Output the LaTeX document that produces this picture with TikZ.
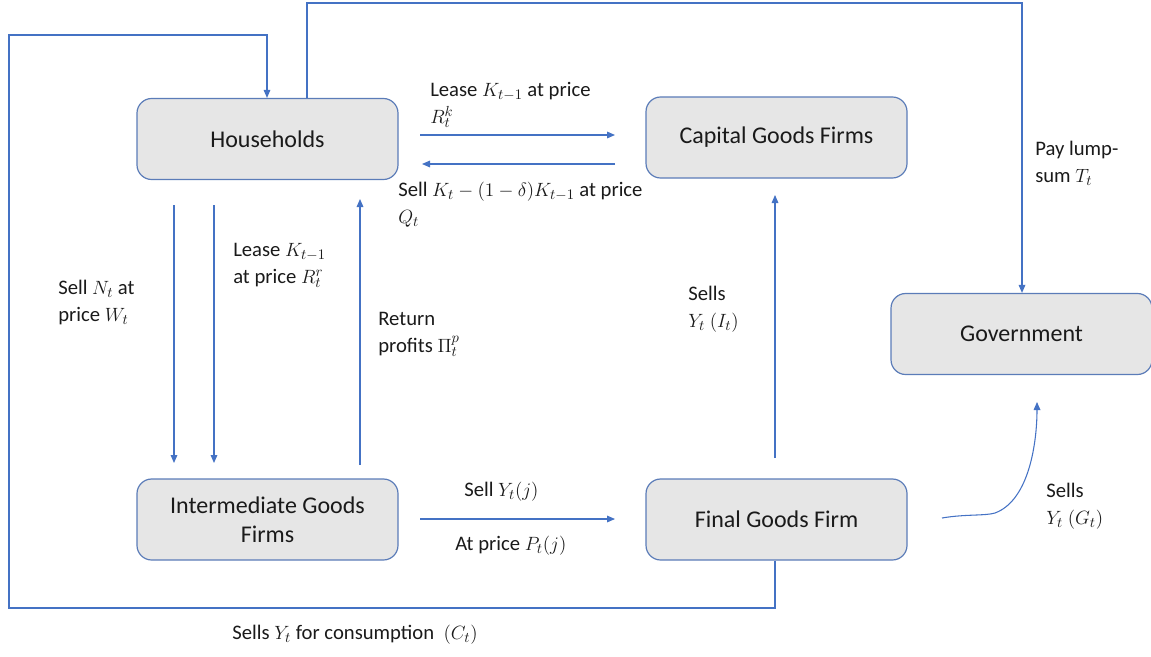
\documentclass[tikz,border=0pt]{standalone}
\usepackage{fontspec}
\setmainfont{Carlito}
\usetikzlibrary{arrows.meta}
\definecolor{lineblue}{HTML}{4472C4}
\definecolor{boxborder}{HTML}{5B7CB8}
\definecolor{boxfill}{HTML}{E6E6E6}
\definecolor{txt}{HTML}{1A1A1A}
\tikzset{
  box/.style={draw=boxborder, line width=0.9pt, fill=boxfill, rounded corners=11pt,
    minimum width=195.75pt, minimum height=60.75pt, inner sep=0pt, align=center,
    text=txt, font=\fontsize{18}{21.5}\selectfont},
  lbl/.style={anchor=north west, inner sep=0pt, align=left, text=txt,
    font=\fontsize{15.5}{20}\selectfont},
  conn/.style={draw=lineblue, line width=0.8pt},
  arr/.style={conn, -{Triangle[length=6pt,width=5pt]}}
}
\begin{document}
\begin{tikzpicture}[x=0.75pt,y=-0.75pt]
\useasboundingbox (0,0) rectangle (1151,656);
% boxes
\node[box] (hh) at (267.5,139) {Households};
\node[box] (cap) at (776.5,137.5) {Capital Goods Firms};
\node[box] (gov) at (1021.5,334) {Government};
\node[box] (inter) at (267.5,519.5) {Intermediate Goods\\Firms};
\node[box] (final) at (776.5,519.5) {Final Goods Firm};
% coordinates
\coordinate (loopA) at (775,608);
\coordinate (loopB) at (9,608);
\coordinate (loopC) at (9,35);
\coordinate (loopD) at (267,35);
\coordinate (topA) at (307,3);
\coordinate (topB) at (1022,3);
\coordinate (l1s) at (420,135);
\coordinate (l1e) at (615,135);
\coordinate (s1s) at (615,164);
\coordinate (s1e) at (422,164);
\coordinate (d1s) at (174,205);
\coordinate (d1e) at (174,463);
\coordinate (d2s) at (214,205);
\coordinate (d2e) at (214,463);
\coordinate (u1s) at (360,465);
\coordinate (u1e) at (360,199);
\coordinate (hs) at (420,519);
\coordinate (he) at (615,519);
\coordinate (vs) at (775,458);
\coordinate (ve) at (775,195);
\coordinate (cs) at (942,518);
\coordinate (ce) at (1037,402);
% connectors
\draw[arr] (final.south -| loopA) -- (loopA) -- (loopB) -- (loopC) -- (loopD) -- (hh.north -| loopD);
\draw[arr] (hh.north -| topA) -- (topA) -- (topB) -- (gov.north -| topB);
\draw[arr] (l1s) -- (l1e);
\draw[arr] (s1s) -- (s1e);
\draw[arr] (d1s) -- (d1e);
\draw[arr] (d2s) -- (d2e);
\draw[arr] (u1s) -- (u1e);
\draw[arr] (hs) -- (he);
\draw[arr] (vs) -- (ve);
\draw[arr] (cs) .. controls (965,514) and (985,516) .. (995,513) .. controls (1030,500) and (1037,440) .. (ce);
% labels
\node[lbl] (t1) at (430,82) {Lease $K_{t-1}$ at price\\$R_t^k$};
\node[lbl] (t2) at (398,182) {Sell $K_t-(1-\delta)K_{t-1}$ at price\\$Q_t$};
\node[lbl] (t3) at (1035,141) {Pay lump-\\sum $T_t$};
\node[lbl] (t4) at (58,280) {Sell $N_t$ at\\price $W_t$};
\node[lbl] (t5) at (233,243) {Lease $K_{t-1}$\\at price $R_t^r$};
\node[lbl] (t6) at (378,312) {Return\\profits $\Pi_t^p$};
\node[lbl] (t7) at (688,286) {Sells\\$Y_t\ (I_t)$};
\node[lbl] (t8) at (1046,483) {Sells\\$Y_t\ (G_t)$};
\node[lbl] (t9) at (464,482) {Sell $Y_t(j)$};
\node[lbl] (t10) at (455,536) {At price $P_t(j)$};
\node[lbl] (t11) at (232,625) {Sells $Y_t$ for consumption\ \ $(C_t)$};
\end{tikzpicture}
\end{document}
